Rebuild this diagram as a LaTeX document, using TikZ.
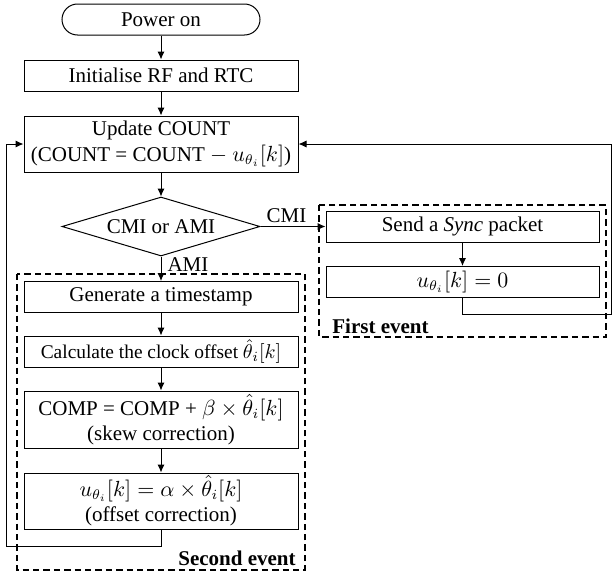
\documentclass[tikz,border=0pt]{standalone}
\usepackage{fontspec}
\setmainfont{Liberation Serif}
\usetikzlibrary{shapes.geometric,arrows.meta}
\tikzset{mydraw/.style={black,line width=0.5pt,-{Latex[length=4pt,width=3.6pt]}}}
\tikzset{mybox/.style={draw,line width=0.5pt,inner sep=0pt,minimum width=137pt,minimum height=15.5pt,align=center}}
\tikzset{myterm/.style={mybox,rounded corners=7.75pt,minimum width=99pt}}
\tikzset{mydec/.style={diamond,draw,line width=0.5pt,inner sep=0pt,aspect=3.4,minimum width=99pt,minimum height=29.5pt}}
\tikzset{mygroup/.style={line width=0.6pt,dash pattern=on 3.2pt off 2pt}}
\tikzset{mylabel/.style={font=\fontsize{10.5}{12.6}\selectfont\bfseries,inner sep=0pt}}

\begin{document}
\begin{tikzpicture}[x=0.5pt,y=-0.5pt,every node/.style={font=\fontsize{10.5}{12.6}\selectfont}]
	\useasboundingbox (0,0) rectangle (613,573);

	% groups of the two events
	\draw[mygroup] (17,274) rectangle (305,570);
	\draw[mygroup] (319,205) rectangle (606,337);
	\node[mylabel,anchor=south east] (second) at (296,566) {Second event};
	\node[mylabel,anchor=north west] (first) at (332,319) {First event};

	% main flow
	\node[myterm] (power) at (161,19.5) {Power on};
	\node[mybox] (init) at (161,75.5) {Initialise RF and RTC};
	\node[mybox,minimum height=28pt] (update) at (161,144) {Update COUNT\\(COUNT = COUNT $-$ $u_{\theta_i}[k]$)};
	\node[mydec] (decide) at (161,226.5) {CMI or AMI};

	\node[mybox,minimum width=136.5pt] (sync) at (462.5,226.5) {Send a \textit{Sync} packet};
	\node[mybox,minimum width=136.5pt] (reset) at (462.5,282) {$u_{\theta_i}[k] = 0$};

	\node[mybox] (stamp) at (161,297) {Generate a timestamp};
	\node[mybox,font=\fontsize{9.7}{11.6}\selectfont] (offset) at (161,351.5) {Calculate the clock offset $\hat{\theta}_i[k]$};
	\node[mybox,minimum height=28.5pt] (skew) at (161,419.5) {COMP = COMP + $\beta \times \hat{\theta}_i[k]$\\(skew correction)};
	\node[mybox,minimum height=28pt] (corr) at (161,501) {$u_{\theta_i}[k] = \alpha \times \hat{\theta}_i[k]$\\(offset correction)};

	\coordinate (backL) at (6,546);
	\coordinate (backR) at (611,314);

	\draw[mydraw] (power) -- (init);
	\draw[mydraw] (init) -- (update);
	\draw[mydraw] (update) -- (decide);
	\draw[mydraw] (decide) -- node[pos=0.4,above,inner sep=1.5pt] {CMI} (sync);
	\draw[mydraw] (decide) -- node[pos=0,below right,inner sep=0.5pt,xshift=2.5pt] {AMI} (stamp);
	\draw[mydraw] (stamp) -- (offset);
	\draw[mydraw] (offset) -- (skew);
	\draw[mydraw] (skew) -- (corr);
	\draw[mydraw] (sync) -- (reset);

	\draw[mydraw] (corr) |- (backL) |- (update.west); % back to the count
	\draw[mydraw] (reset) |- (backR) |- (update.east);
\end{tikzpicture}
\end{document}
